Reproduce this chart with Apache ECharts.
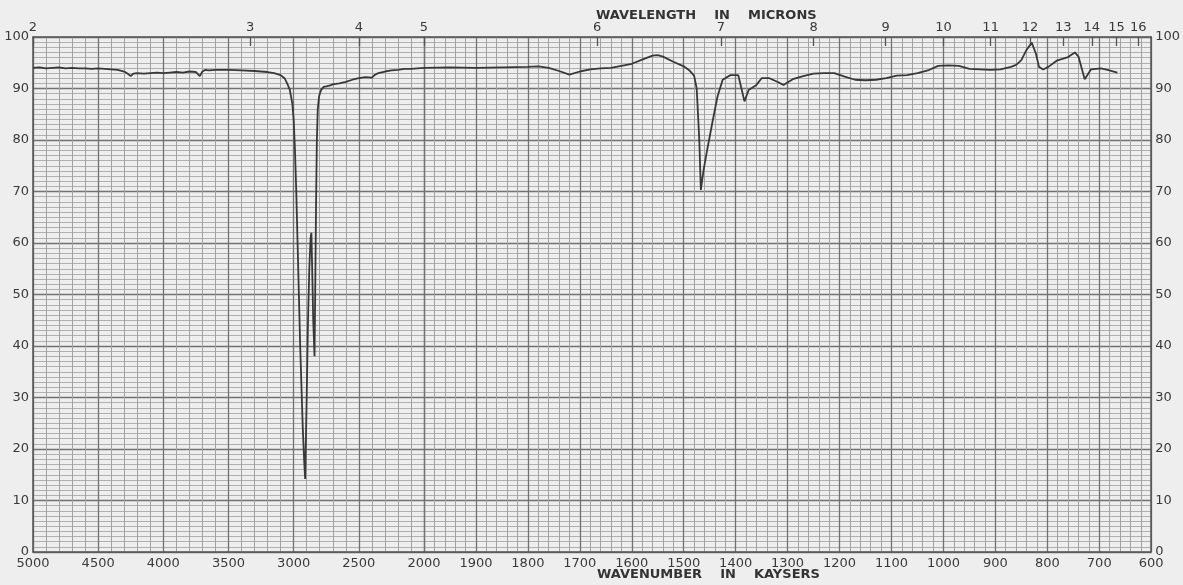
<!DOCTYPE html>
<html>
<head>
<meta charset="utf-8">
<script src="https://cdn.jsdelivr.net/npm/echarts@6/dist/echarts.min.js"></script>
<style>
  html, body { margin: 0; padding: 0; background: #eeeeee; }
  #chart { width: 1183px; height: 585px; }
</style>
</head>
<body>
<div id="chart"></div>
<script>
// Infrared transmission spectrum: wavenumber (cm-1) vs. percent transmittance.
// The chart paper changes scale at 2000 cm-1, so it is drawn as two grids side by side.
const wavenumbers = [
  5000, 4950, 4900, 4850, 4800, 4750, 4700, 4650, 4600, 4550, 4500, 4450, 4400, 4350, 4300,
  4270, 4250, 4230, 4200, 4150, 4100, 4050, 4000, 3950, 3900, 3850, 3800, 3750, 3720, 3700,
  3680, 3650, 3600, 3500, 3400, 3300, 3200, 3150, 3100, 3070, 3050, 3030, 3010, 3000, 2990,
  2980, 2970, 2960, 2950, 2940, 2930, 2920, 2912, 2900, 2890, 2880, 2870, 2864, 2858, 2850,
  2840, 2835, 2828, 2822, 2815, 2805, 2790, 2770, 2750, 2720, 2700, 2650, 2600, 2550, 2500,
  2450, 2400, 2380, 2350, 2300, 2250, 2200, 2150, 2100, 2050, 2000,
  1950, 1900, 1850, 1800, 1780, 1760, 1740, 1720, 1700, 1680, 1660, 1640, 1620, 1600, 1580,
  1560, 1550, 1540, 1520, 1500, 1490, 1480, 1475, 1470, 1467, 1462, 1455, 1445, 1435, 1425,
  1410, 1395, 1390, 1383, 1375, 1360, 1350, 1335, 1320, 1308, 1290, 1270, 1250, 1230, 1210,
  1190, 1170, 1150, 1130, 1110, 1090, 1070, 1050, 1030, 1010, 990, 970, 950, 930, 910,
  890, 870, 860, 850, 840, 830, 822, 816, 808, 798, 782, 760, 747, 740, 728,
  716, 697, 684, 665
];
const transmittance = [
  94.0, 94.1, 93.9, 94.0, 94.1, 93.9, 94.0, 93.9, 93.9, 93.8, 93.9, 93.8, 93.7, 93.6, 93.3,
  92.8, 92.4, 92.9, 93.0, 92.9, 93.0, 93.1, 93.0, 93.1, 93.2, 93.1, 93.3, 93.2, 92.4, 93.3,
  93.6, 93.5, 93.6, 93.6, 93.5, 93.4, 93.2, 93.0, 92.6, 92.0, 91.0, 89.8, 87.0, 84.0, 78.0,
  70.0, 60.0, 50.0, 40.0, 32.0, 24.0, 18.0, 14.2, 30.0, 45.0, 55.0, 61.0, 62.0, 55.0, 45.0,
  38.0, 50.0, 68.0, 80.0, 86.0, 88.5, 89.7, 90.3, 90.4, 90.6, 90.8, 91.0, 91.3, 91.7, 92.0,
  92.2, 92.1, 92.6, 93.0, 93.3, 93.5, 93.6, 93.8, 93.8, 93.9, 94.0,
  94.1, 94.0, 94.1, 94.2, 94.3, 94.0, 93.4, 92.7, 93.3, 93.7, 93.9, 94.0, 94.4, 94.8, 95.6,
  96.4, 96.5, 96.2, 95.2, 94.3, 93.6, 92.5, 90.0, 80.0, 70.3, 74.0, 78.0, 83.3, 88.4, 91.7,
  92.6, 92.6, 90.5, 87.5, 89.7, 90.7, 92.0, 92.0, 91.3, 90.7, 91.8, 92.4, 92.9, 93.0, 93.0,
  92.3, 91.7, 91.6, 91.7, 92.0, 92.5, 92.6, 93.0, 93.5, 94.4, 94.5, 94.4, 93.8, 93.7, 93.6,
  93.7, 94.2, 94.6, 95.5, 97.5, 98.9, 96.8, 94.2, 93.7, 94.2, 95.4, 96.1, 97.0, 96.2, 91.8,
  93.7, 93.9, 93.6, 93.1
];
// Wavelength scale along the top edge (microns)
const micronLabels = [2, 3, 4, 5, 6, 7, 8, 9, 10, 11, 12, 13, 14, 15, 16];

const SCALE_BREAK = 2000;
const points = wavenumbers.map((w, i) => [w, transmittance[i]]);
const highRange = points.filter(p => p[0] >= SCALE_BREAK);
const lowRange = points.filter(p => p[0] <= SCALE_BREAK);
const micronAsWavenumber = micronLabels.map(m => 10000 / m);
const micronHigh = micronAsWavenumber.filter(w => w >= SCALE_BREAK);
const micronLow = micronAsWavenumber.filter(w => w < SCALE_BREAK);

const FONT = 'DejaVu Sans';
const TEXT = '#3a3a3a';
const MAJOR = '#727272';
const MINOR = '#a2a2a2';
const HMINOR = '#b0b0b0';
const BORDER = '#555555';

function bottomAxis(gridIndex, min, max, interval, showMinLabel) {
  return {
    type: 'value', gridIndex, min, max, interval, inverse: true, position: 'bottom',
    axisLine: { show: true, onZero: false, lineStyle: { color: BORDER, width: 1.5 } },
    axisTick: { show: false },
    axisLabel: { color: TEXT, fontFamily: FONT, fontSize: 13, margin: 5,
      showMinLabel, showMaxLabel: true, formatter: v => String(v) },
    splitLine: { show: true, lineStyle: { color: MAJOR, width: 1.3 } },
    minorTick: { show: false, splitNumber: 5 },
    minorSplitLine: { show: true, lineStyle: { color: MINOR, width: 1 } }
  };
}
function topAxis(gridIndex, min, max, values) {
  return {
    type: 'value', gridIndex, min, max, inverse: true, position: 'top',
    axisLine: { show: true, onZero: false, lineStyle: { color: BORDER, width: 1.5 } },
    axisTick: { show: true, inside: true, length: 9, customValues: values,
      lineStyle: { color: '#555', width: 1.3 } },
    axisLabel: { show: true, customValues: values, color: TEXT, fontFamily: FONT,
      fontSize: 13, margin: 3, formatter: v => String(Math.round(10000 / v)) },
    splitLine: { show: false }
  };
}
function yAxis(gridIndex, position) {
  return {
    type: 'value', gridIndex, min: 0, max: 100, interval: 10, position,
    axisLine: { show: true, lineStyle: { color: BORDER, width: 1.5 } },
    axisTick: { show: false },
    axisLabel: { show: true, color: TEXT, fontFamily: FONT, fontSize: 13, margin: 4 },
    splitLine: { show: true, lineStyle: { color: MAJOR, width: 1.3 } },
    minorTick: { show: false, splitNumber: 10 },
    minorSplitLine: { show: true, lineStyle: { color: HMINOR, width: 1 } }
  };
}

const chart = echarts.init(document.getElementById('chart'), null, { renderer: 'canvas' });
chart.setOption({
  backgroundColor: '#eeeeee',
  animation: false,
  grid: [
    { left: 33, top: 37, width: 391, height: 515 },
    { left: 424, top: 37, width: 728, height: 515 }
  ],
  xAxis: [
    bottomAxis(0, 2000, 5000, 500, false),
    bottomAxis(1, 600, 2000, 100, true),
    topAxis(0, 2000, 5000, micronHigh),
    topAxis(1, 600, 2000, micronLow)
  ],
  yAxis: [
    yAxis(0, 'left'),
    yAxis(1, 'right')
  ],
  graphic: [
    { type: 'text', left: 596, top: 9,
      style: { text: 'WAVELENGTH    IN    MICRONS', fill: '#333', font: 'bold 13px "DejaVu Sans"' } },
    { type: 'text', left: 597, top: 568,
      style: { text: 'WAVENUMBER    IN    KAYSERS', fill: '#333', font: 'bold 13px "DejaVu Sans"' } }
  ],
  series: [
    { type: 'line', xAxisIndex: 0, yAxisIndex: 0, data: highRange, showSymbol: false,
      lineStyle: { color: '#383838', width: 1.8 }, z: 5, silent: true },
    { type: 'line', xAxisIndex: 1, yAxisIndex: 1, data: lowRange, showSymbol: false,
      lineStyle: { color: '#383838', width: 1.8 }, z: 5, silent: true }
  ]
});
</script>
</body>
</html>
